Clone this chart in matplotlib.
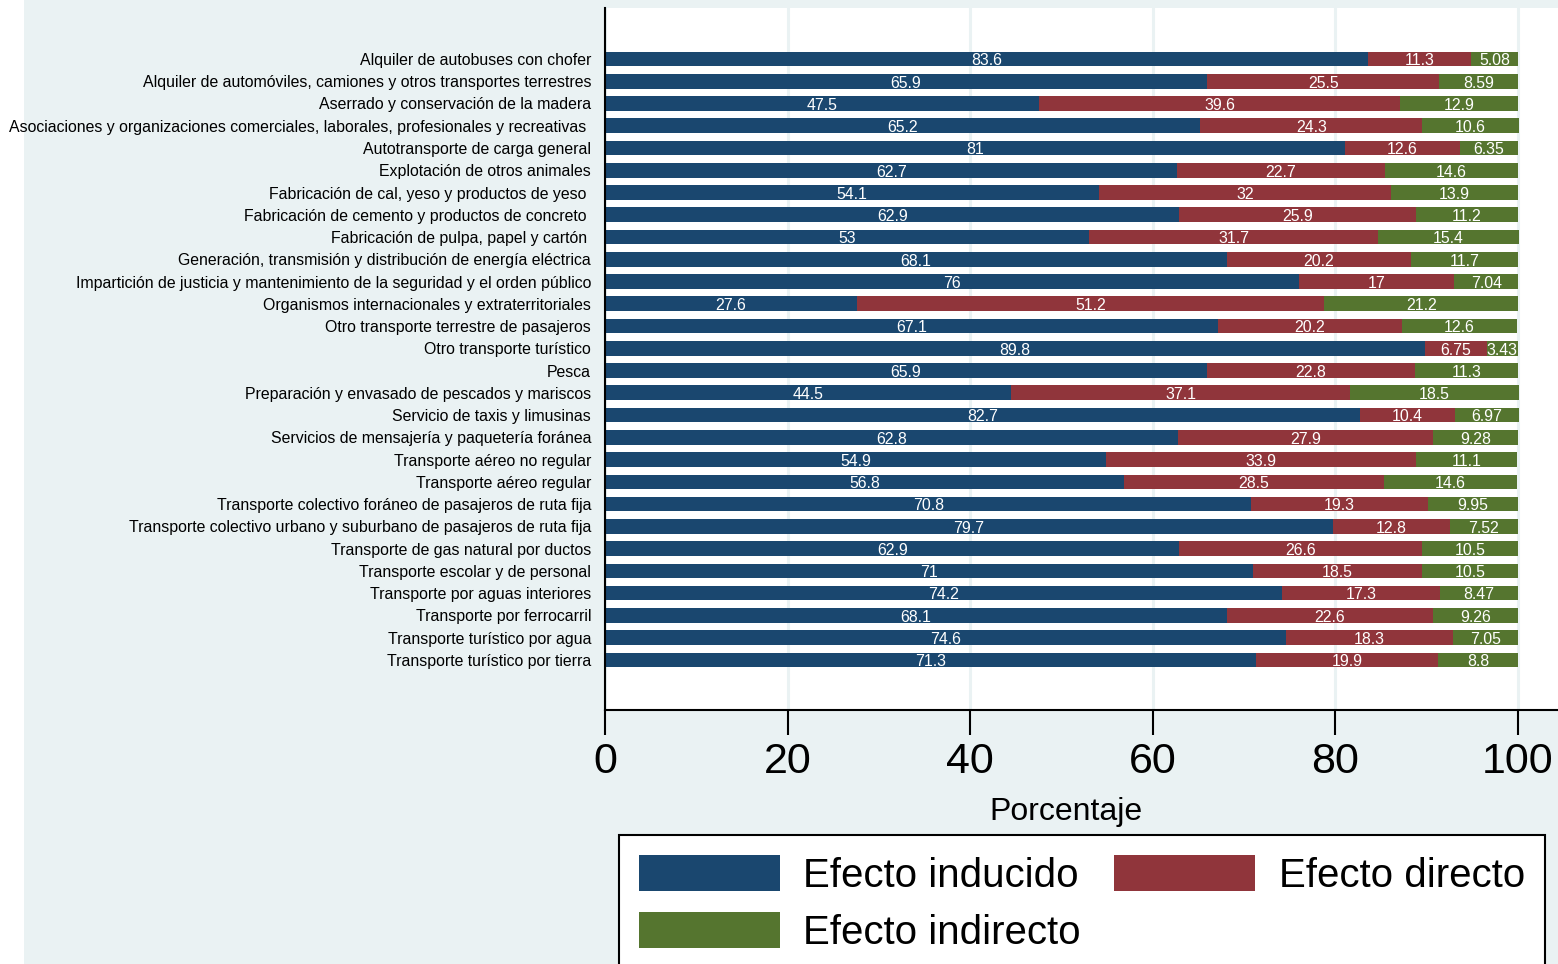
import matplotlib
matplotlib.use("Agg")
import matplotlib.pyplot as plt
from matplotlib.patches import Rectangle, Patch
import numpy as np

plt.rcParams['font.family'] = ['Liberation Sans', 'DejaVu Sans']

categories = [
    "Alquiler de autobuses con chofer",
    "Alquiler de automóviles, camiones y otros transportes terrestres",
    "Aserrado y conservación de la madera",
    "Asociaciones y organizaciones comerciales, laborales, profesionales y recreativas ",
    "Autotransporte de carga general",
    "Explotación de otros animales",
    "Fabricación de cal, yeso y productos de yeso ",
    "Fabricación de cemento y productos de concreto ",
    "Fabricación de pulpa, papel y cartón ",
    "Generación, transmisión y distribución de energía eléctrica",
    "Impartición de justicia y mantenimiento de la seguridad y el orden público",
    "Organismos internacionales y extraterritoriales",
    "Otro transporte terrestre de pasajeros",
    "Otro transporte turístico",
    "Pesca",
    "Preparación y envasado de pescados y mariscos",
    "Servicio de taxis y limusinas",
    "Servicios de mensajería y paquetería foránea",
    "Transporte aéreo no regular",
    "Transporte aéreo regular",
    "Transporte colectivo foráneo de pasajeros de ruta fija",
    "Transporte colectivo urbano y suburbano de pasajeros de ruta fija",
    "Transporte de gas natural por ductos",
    "Transporte escolar y de personal",
    "Transporte por aguas interiores",
    "Transporte por ferrocarril",
    "Transporte turístico por agua",
    "Transporte turístico por tierra",
]

inducido = [83.6, 65.9, 47.5, 65.2, 81, 62.7, 54.1, 62.9, 53, 68.1, 76, 27.6, 67.1, 89.8,
            65.9, 44.5, 82.7, 62.8, 54.9, 56.8, 70.8, 79.7, 62.9, 71, 74.2, 68.1, 74.6, 71.3]
directo = [11.3, 25.5, 39.6, 24.3, 12.6, 22.7, 32, 25.9, 31.7, 20.2, 17, 51.2, 20.2, 6.75,
           22.8, 37.1, 10.4, 27.9, 33.9, 28.5, 19.3, 12.8, 26.6, 18.5, 17.3, 22.6, 18.3, 19.9]
indirecto = [5.08, 8.59, 12.9, 10.6, 6.35, 14.6, 13.9, 11.2, 15.4, 11.7, 7.04, 21.2, 12.6, 3.43,
             11.3, 18.5, 6.97, 9.28, 11.1, 14.6, 9.95, 7.52, 10.5, 10.5, 8.47, 9.26, 7.05, 8.8]

series_names = ["Efecto inducido", "Efecto directo", "Efecto indirecto"]
colors = ["#1A476F", "#90353B", "#55752F"]
bg = "#EAF2F3"

W, H = 1558, 964
fig = plt.figure(figsize=(W / 100, H / 100), dpi=100)
fig.patch.set_facecolor(bg)
fig.patches.append(Rectangle((0, 0), 24 / W, 1, transform=fig.transFigure,
                             facecolor="white", edgecolor="none", zorder=-5))

ax = fig.add_axes([605 / W, 1 - 710 / H, (W - 605) / W, (710 - 8) / H])
ax.set_facecolor("white")

n = len(categories)
y = np.arange(n)
ind = np.array(inducido)
dire = np.array(directo)
indi = np.array(indirecto)
lefts = [np.zeros(n), ind, ind + dire]
vals = [ind, dire, indi]
bar_h = 0.66
for k in range(3):
    ax.barh(y, vals[k], left=lefts[k], height=bar_h, color=colors[k],
            edgecolor="none", zorder=2, label=series_names[k])
    for i in range(n):
        v = vals[k][i]
        txt = f"{v:g}"
        ax.text(lefts[k][i] + v / 2, y[i] + 0.08, txt, ha="center", va="center",
                color="white", fontsize=11.4, zorder=3)

ax.set_ylim(n - 1 + 2.25, -2.29)
ax.set_xlim(0, 100 * (W - 605) / (1518 - 605))
ax.set_yticks(y)
ax.set_yticklabels(categories, fontsize=11.4)
ax.tick_params(axis="y", length=0, pad=10)
ax.set_xticks([0, 20, 40, 60, 80, 100])
ax.tick_params(axis="x", length=18, width=1.5, direction="out", labelsize=31, pad=5)
ax.grid(axis="x", color=bg, linewidth=2.2, zorder=1)
ax.set_axisbelow(True)
for s in ["top", "right"]:
    ax.spines[s].set_visible(False)
ax.spines["left"].set_linewidth(1.5)
ax.spines["bottom"].set_linewidth(1.5)

fig.text(1066 / W, 1 - 812 / H, "Porcentaje", ha="center", va="center", fontsize=23)

handles = [Patch(facecolor=colors[0]), Patch(facecolor=colors[2]), Patch(facecolor=colors[1])]
labels = [series_names[0], series_names[2], series_names[1]]
leg = fig.legend(handles, labels, loc="upper left", ncol=2, mode="expand",
                 bbox_to_anchor=(619 / W, 1 - 835 / H, (1545 - 619) / W, 0.0),
                 fontsize=29, handlelength=3.5, handleheight=1.0, handletextpad=0.58,
                 borderpad=0.5, labelspacing=0.42, fancybox=False, framealpha=1,
                 edgecolor="black", borderaxespad=0)
leg.get_frame().set_linewidth(1.5)

fig.savefig("out.png", dpi=100, facecolor=fig.get_facecolor())
